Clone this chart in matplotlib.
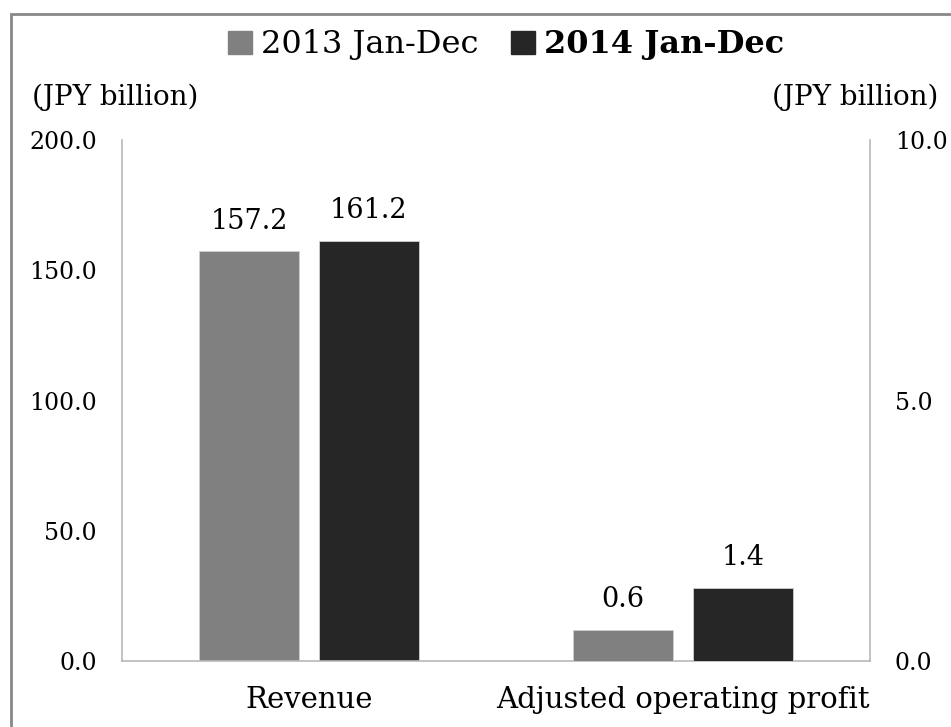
import matplotlib.pyplot as plt
from matplotlib.patches import Rectangle, Patch

categories = ["Revenue", "Adjusted operating profit"]
series = ["2013 Jan-Dec", "2014 Jan-Dec"]
values_2013 = [157.2, 0.6]
values_2014 = [161.2, 1.4]
left_ticks = [0.0, 50.0, 100.0, 150.0, 200.0]
right_ticks = [0.0, 5.0, 10.0]

colors = ["#808080", "#262626"]
spine_color = "#b8b8b8"
font = "DejaVu Serif"


def main():
    plt.rcParams["font.family"] = font
    fig = plt.figure(figsize=(9.51, 7.27), dpi=100)
    ax1 = fig.add_axes([122 / 951, 1 - 661 / 727, 748 / 951, 521 / 727])
    ax2 = ax1.twinx()

    # outer frame, runs off the right and bottom edges
    fig.patches.append(Rectangle((11 / 951, -0.05), 1.2, 1.05 - 14 / 727,
                                 transform=fig.transFigure, fill=False,
                                 edgecolor="#888888", lw=2))

    width = 0.267
    offsets = [-0.16, 0.16]
    for i, (ax, cat) in enumerate(zip([ax1, ax2], categories)):
        for j, vals in enumerate([values_2013, values_2014]):
            x = i + offsets[j]
            ax.bar(x, vals[i], width=width, color=colors[j],
                   edgecolor="#d0d0d0", lw=0.6)
            ax.annotate(f"{vals[i]:.1f}", (x, vals[i]), xytext=(0, 12),
                        textcoords="offset points", ha="center", va="bottom",
                        fontsize=19.5)

    ax1.set_xlim(-0.5, 1.5)
    ax1.set_ylim(0, 200)
    ax2.set_ylim(0, 10)
    ax1.set_yticks(left_ticks)
    ax1.set_yticklabels([f"{v:.1f}" for v in left_ticks])
    ax2.set_yticks(right_ticks)
    ax2.set_yticklabels([f"{v:.1f}" for v in right_ticks])
    ax1.set_xticks([0, 1])
    ax1.set_xticklabels(categories)

    ax1.tick_params(axis="y", length=0, pad=18, labelsize=17)
    ax2.tick_params(axis="y", length=0, pad=18, labelsize=17)
    ax1.tick_params(axis="x", length=0, pad=18, labelsize=21)

    for ax in (ax1, ax2):
        ax.spines["top"].set_visible(False)
        for s in ("left", "right", "bottom"):
            ax.spines[s].set_color(spine_color)
            ax.spines[s].set_linewidth(1.2)
    ax1.spines["right"].set_visible(False)
    ax2.spines["left"].set_visible(False)
    ax2.spines["bottom"].set_visible(False)

    fig.text(32 / 951, 1 - 97 / 727, "(JPY billion)", fontsize=20,
             ha="left", va="center")
    fig.text(938 / 951, 1 - 97 / 727, "(JPY billion)", fontsize=20,
             ha="right", va="center")

    handles = [Patch(color=c) for c in colors]
    leg = fig.legend(handles, series, loc="center", bbox_to_anchor=(506 / 951, 1 - 45 / 727),
                     ncol=2, frameon=False, fontsize=23, handlelength=0.75,
                     handleheight=0.75, handletextpad=0.3, columnspacing=1.0)
    leg.get_texts()[1].set_fontweight("bold")

    fig.savefig("out.png", dpi=100)


if __name__ == "__main__":
    main()
